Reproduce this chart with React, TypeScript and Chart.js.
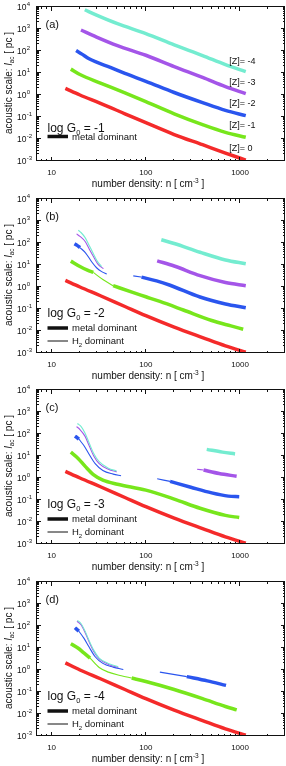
import React, { useEffect, useRef } from 'react';
import { Chart, registerables } from 'chart.js';
Chart.register(...registerables);

type Pt = [number, number];

// ---------- colours ----------
const RED = '#f42a2a';
const GREEN = '#77e61c';
const BLUE = '#2a55ee';
const PURPLE = '#a455e8';
const CYAN = '#74ecd0';
const INK = '#111';

// ---------- axes ----------
const X_MIN = 7;
const X_MAX = 3000;
const Y_MIN = 1e-3;
const Y_MAX = 1e4;
const xTickValues = [10, 100, 1000];
const xTickLabels = ['10', '100', '1000'];
const yTickExponents = [-3, -2, -1, 0, 1, 2, 3, 4];

// ---------- panel (a): log G0 = -1 ----------
const a_cyan: Pt[] = [[22.5, 7500], [30, 4300], [50, 1750], [100, 620], [200, 190], [400, 62], [700, 24], [1150, 11.5]];
const a_purple: Pt[] = [[20.5, 900], [30, 430], [50, 175], [100, 64], [200, 19.5], [400, 6.3], [700, 2.4], [1150, 1.15]];
const a_blue: Pt[] = [[18.2, 105], [21, 72], [25, 44], [30, 31], [42, 18], [60, 9.5], [100, 4.2], [200, 1.3], [400, 0.45], [700, 0.2], [1150, 0.115]];
const a_green: Pt[] = [[16, 15], [20, 8.5], [33, 3.5], [60, 1.25], [100, 0.5], [200, 0.14], [400, 0.045], [700, 0.02], [1150, 0.012]];
const a_red: Pt[] = [[14, 2.0], [20, 1.0], [33, 0.42], [60, 0.14], [100, 0.055], [200, 0.016], [400, 0.0055], [700, 0.0023], [1150, 0.0011]];
const zLabels = ['[Z]= -4', '[Z]= -3', '[Z]= -2', '[Z]= -1', '[Z]= 0'];
const zLabelN = 770;
const zLabelL = [35, 3.9, 0.43, 0.044, 0.0039];

// ---------- panel (b): log G0 = -2 ----------
const b_red: Pt[] = [[14, 2.0], [20, 1.0], [33, 0.4], [60, 0.13], [100, 0.05], [200, 0.015], [400, 0.005], [700, 0.0021], [1150, 0.0011]];
const b_green_m1: Pt[] = [[16, 15], [20, 8.5], [24, 5.8], [27.7, 4.6]];
const b_green_h: Pt[] = [[27.7, 4.6], [35, 2.2], [45, 1.15]];
const b_green_m2: Pt[] = [[45, 1.15], [70, 0.6], [100, 0.36], [141, 0.22], [250, 0.09], [500, 0.03], [800, 0.017], [1080, 0.012]];
const b_blue_m1: Pt[] = [[17.5, 92], [18.5, 80], [20, 62]];
const b_blue_h1: Pt[] = [[20, 62], [23, 35], [26.6, 14], [30, 7.5], [34, 5], [38.5, 3.9]];
const b_blue_h2: Pt[] = [[73.6, 3.2], [90, 2.8]];
const b_blue_m2: Pt[] = [[90, 2.8], [130, 1.9], [181, 1.2], [376, 0.35], [700, 0.17], [1150, 0.115]];
const b_purple_h: Pt[] = [[18.4, 260], [20, 200], [22.6, 120], [25, 55], [27.7, 25], [31, 11], [35.5, 6.8]];
const b_purple_m: Pt[] = [[132, 15.5], [200, 9], [376, 3.3], [700, 1.6], [1150, 1.15]];
const b_cyan_h: Pt[] = [[19.2, 380], [20.5, 300], [22.6, 180], [25, 80], [27.7, 33], [30.5, 15], [34, 8.5]];
const b_cyan_m: Pt[] = [[146, 140], [200, 95], [376, 38], [700, 17], [1150, 11.5]];

// ---------- panel (c): log G0 = -3 ----------
const c_red: Pt[] = [[14, 2.0], [20, 1.0], [33, 0.4], [60, 0.13], [100, 0.05], [200, 0.015], [400, 0.005], [700, 0.0021], [1150, 0.0011]];
const c_green: Pt[] = [[16, 15], [19, 8], [23, 3.2], [28, 1.4], [35, 0.8], [50, 0.52], [100, 0.28], [200, 0.11], [376, 0.042], [700, 0.02], [980, 0.016]];
const c_blue_m1: Pt[] = [[17.7, 80], [18.5, 70], [19.5, 58]];
const c_blue_h1: Pt[] = [[19.5, 58], [22, 30], [25, 12], [29, 4.5], [35, 2.2], [45, 1.5], [54.6, 1.26]];
const c_blue_h2: Pt[] = [[132, 0.92], [181, 0.7]];
const c_blue_m2: Pt[] = [[181, 0.7], [300, 0.38], [500, 0.21], [750, 0.15], [980, 0.14]];
const c_purple_h: Pt[] = [[18.4, 215], [20, 160], [22.6, 80], [25, 30], [28, 10], [32, 4.5], [40, 2.5], [49, 1.9]];
const c_purple_h2: Pt[] = [[350, 2.5], [410, 2.3]];
const c_purple_m: Pt[] = [[410, 2.3], [600, 1.6], [920, 1.2]];
const c_cyan_h: Pt[] = [[18.8, 300], [20.5, 220], [22.6, 110], [25, 40], [28, 13], [32, 5.5], [40, 2.8], [49, 2.1]];
const c_cyan_m: Pt[] = [[443, 20], [650, 15], [885, 12.4]];

// ---------- panel (d): log G0 = -4 ----------
const d_red: Pt[] = [[14, 2.1], [20, 1.0], [33, 0.4], [60, 0.13], [100, 0.05], [200, 0.015], [400, 0.005], [700, 0.0021], [1150, 0.0011]];
const d_green_m1: Pt[] = [[16, 15.5], [19, 10], [22, 6], [25.6, 3.5]];
const d_green_h: Pt[] = [[25.6, 3.5], [32, 1.3], [40, 0.8], [55, 0.55], [70.8, 0.43]];
const d_green_m2: Pt[] = [[70.8, 0.43], [100, 0.3], [200, 0.13], [400, 0.05], [700, 0.022], [922, 0.0155]];
const d_blue_m1: Pt[] = [[17.7, 83], [18.5, 70], [19.5, 58]];
const d_blue_h1: Pt[] = [[19.5, 58], [22, 28], [25, 11], [29, 4], [35, 2], [45, 1.35], [57.7, 1.05]];
const d_blue_h2: Pt[] = [[141, 0.8], [272, 0.5]];
const d_blue_m2: Pt[] = [[272, 0.5], [450, 0.32], [710, 0.2]];
const d_purple_h: Pt[] = [[18.6, 165], [20.5, 115], [22.6, 52], [25, 19], [28, 7], [32, 3.2], [40, 1.8], [51, 1.3]];
const d_cyan_h: Pt[] = [[18.8, 180], [20.5, 130], [22.6, 60], [25, 22], [28, 8], [32, 3.5], [40, 2], [51, 1.4]];

type Seg = { data: Pt[]; color: string; thick: boolean };
type Panel = { tag: string; g0: string; h2: boolean; z: boolean; height: number; segs: Seg[] };

const m = (data: Pt[], color: string): Seg => ({ data, color, thick: true });
const h = (data: Pt[], color: string): Seg => ({ data, color, thick: false });

const panels: Panel[] = [
  {
    tag: '(a)', g0: '-1', h2: false, z: true, height: 192,
    segs: [m(a_cyan, CYAN), m(a_purple, PURPLE), m(a_blue, BLUE), m(a_green, GREEN), m(a_red, RED)],
  },
  {
    tag: '(b)', g0: '-2', h2: true, z: false, height: 191,
    segs: [
      h(b_cyan_h, CYAN), m(b_cyan_m, CYAN), h(b_purple_h, PURPLE), m(b_purple_m, PURPLE),
      m(b_blue_m1, BLUE), h(b_blue_h1, BLUE), h(b_blue_h2, BLUE), m(b_blue_m2, BLUE),
      m(b_green_m1, GREEN), h(b_green_h, GREEN), m(b_green_m2, GREEN), m(b_red, RED),
    ],
  },
  {
    tag: '(c)', g0: '-3', h2: true, z: false, height: 192,
    segs: [
      h(c_cyan_h, CYAN), m(c_cyan_m, CYAN), h(c_purple_h, PURPLE), h(c_purple_h2, PURPLE), m(c_purple_m, PURPLE),
      m(c_blue_m1, BLUE), h(c_blue_h1, BLUE), h(c_blue_h2, BLUE), m(c_blue_m2, BLUE),
      m(c_green, GREEN), m(c_red, RED),
    ],
  },
  {
    tag: '(d)', g0: '-4', h2: true, z: false, height: 191,
    segs: [
      h(d_cyan_h, CYAN), h(d_purple_h, PURPLE),
      m(d_blue_m1, BLUE), h(d_blue_h1, BLUE), h(d_blue_h2, BLUE), m(d_blue_m2, BLUE),
      m(d_green_m1, GREEN), h(d_green_h, GREEN), m(d_green_m2, GREEN), m(d_red, RED),
    ],
  },
];

const FAMILY = "'Liberation Sans', Arial, Helvetica, sans-serif";
type Run = { t: string; size: number; dy?: number; italic?: boolean };

function drawRuns(ctx: CanvasRenderingContext2D, runs: Run[], x: number, y: number, align: 'left' | 'center' | 'right') {
  const font = (r: Run) => `${r.italic ? 'italic ' : ''}${r.size}px ${FAMILY}`;
  const widths = runs.map((r) => { ctx.font = font(r); return ctx.measureText(r.t).width; });
  const total = widths.reduce((s, w) => s + w, 0);
  let cx = align === 'left' ? x : align === 'center' ? x - total / 2 : x - total;
  ctx.textAlign = 'left';
  ctx.textBaseline = 'alphabetic';
  runs.forEach((r, i) => {
    ctx.font = font(r);
    ctx.fillText(r.t, cx, y + (r.dy || 0));
    cx += widths[i];
  });
}

function decor(p: Panel) {
  return {
    id: 'decor',
    afterDraw(chart: any) {
      const ctx: CanvasRenderingContext2D = chart.ctx;
      const xs = chart.scales.x;
      const ys = chart.scales.y;
      const { left, right, top, bottom } = chart.chartArea;
      ctx.save();
      ctx.strokeStyle = INK;
      ctx.fillStyle = INK;
      ctx.lineWidth = 1;
      ctx.strokeRect(left - 0.5, top - 0.5, right - left, bottom - top);
      ctx.beginPath();
      for (let k = 0; k <= 3; k++) {
        for (let mm = 1; mm <= 9; mm++) {
          const v = mm * Math.pow(10, k);
          if (v < X_MIN || v > X_MAX) continue;
          const px = Math.round(xs.getPixelForValue(v)) - 0.5;
          const len = mm === 1 ? 4 : 2;
          ctx.moveTo(px, bottom); ctx.lineTo(px, bottom - len);
          ctx.moveTo(px, top); ctx.lineTo(px, top + len);
        }
      }
      for (let k = -3; k <= 4; k++) {
        for (let mm = 1; mm <= 9; mm++) {
          const v = mm * Math.pow(10, k);
          if (v < Y_MIN || v > Y_MAX * 1.0001) continue;
          const py = Math.round(ys.getPixelForValue(v)) - 0.5;
          const len = mm === 1 ? 4 : 2;
          ctx.moveTo(left, py); ctx.lineTo(left + len, py);
          ctx.moveTo(right, py); ctx.lineTo(right - len, py);
        }
      }
      ctx.stroke();

      // tick labels
      yTickExponents.forEach((e) => {
        const py = ys.getPixelForValue(Math.pow(10, e));
        drawRuns(ctx, [{ t: '10', size: 8.5 }], 26.5, py + 3, 'right');
        drawRuns(ctx, [{ t: String(e), size: 6 }], 26.8, py - 1, 'left');
      });
      xTickValues.forEach((v, i) => {
        const px = xs.getPixelForValue(v);
        drawRuns(ctx, [{ t: xTickLabels[i], size: 8 }], px, bottom + 14, 'center');
      });

      // axis titles
      drawRuns(ctx, [
        { t: 'number density: n [ cm', size: 10 },
        { t: '-3', size: 6.5, dy: -4 },
        { t: ' ]', size: 10 },
      ], 148, bottom + 26, 'center');
      ctx.save();
      ctx.translate(11.5, (top + bottom) / 2 - 1);
      ctx.rotate(-Math.PI / 2);
      drawRuns(ctx, [
        { t: 'acoustic scale: ', size: 10 },
        { t: 'l', size: 10, italic: true },
        { t: 'ac', size: 6.5, dy: 2.5 },
        { t: ' [ pc ]', size: 10 },
      ], 0, 0, 'center');
      ctx.restore();

      // panel tag
      drawRuns(ctx, [{ t: p.tag, size: 11 }], 45.5, top + 21, 'left');

      // G0 + legend
      const gY = p.h2 ? top + 118 : top + 125;
      drawRuns(ctx, [
        { t: 'log G', size: 12 },
        { t: '0', size: 7.5, dy: 2.5 },
        { t: ' = ' + p.g0, size: 12 },
      ], 47.5, gY, 'left');
      const mY = p.h2 ? top + 129 : top + 129.5;
      ctx.lineWidth = 3.5;
      ctx.beginPath(); ctx.moveTo(47.5, mY); ctx.lineTo(68, mY); ctx.stroke();
      drawRuns(ctx, [{ t: 'metal dominant', size: 9.5 }], 72, mY + 3.3, 'left');
      if (p.h2) {
        const hY = top + 142;
        ctx.lineWidth = 1;
        ctx.beginPath(); ctx.moveTo(47.5, hY); ctx.lineTo(68, hY); ctx.stroke();
        drawRuns(ctx, [
          { t: 'H', size: 9.5 },
          { t: '2', size: 6, dy: 2.5 },
          { t: ' dominant', size: 9.5 },
        ], 72, hY + 3.3, 'left');
      }
      if (p.z) {
        zLabels.forEach((t, i) => {
          const px = xs.getPixelForValue(zLabelN);
          const py = ys.getPixelForValue(zLabelL[i]);
          drawRuns(ctx, [{ t, size: 9 }], px, py + 3.2, 'left');
        });
      }
      ctx.restore();
    },
  };
}

function PanelChart({ p }: { p: Panel }) {
  const ref = useRef<HTMLCanvasElement | null>(null);
  useEffect(() => {
    if (!ref.current) return;
    const chart = new Chart(ref.current, {
      type: 'line',
      data: {
        datasets: p.segs.map((s) => ({
          data: s.data.map(([x, y]) => ({ x, y })),
          borderColor: s.color,
          backgroundColor: s.color,
          borderWidth: s.thick ? 3.5 : 1.1,
          pointRadius: 0,
          fill: false,
          cubicInterpolationMode: 'monotone' as const,
          borderCapStyle: 'butt' as const,
          borderJoinStyle: 'round' as const,
        })),
      },
      options: {
        animation: false,
        responsive: false,
        maintainAspectRatio: false,
        events: [],
        layout: { padding: { left: 37, right: 1, top: 7, bottom: p.height - 161 } },
        plugins: { legend: { display: false }, tooltip: { enabled: false }, title: { display: false } },
        scales: {
          x: { type: 'logarithmic', min: X_MIN, max: X_MAX, display: false },
          y: { type: 'logarithmic', min: Y_MIN, max: Y_MAX, display: false },
        },
      } as any,
      plugins: [decor(p)],
    });
    return () => chart.destroy();
  }, [p]);
  return <canvas ref={ref} width={286} height={p.height} style={{ display: 'block', width: 286, height: p.height }} />;
}

export default function App() {
  return (
    <div style={{ position: 'absolute', left: 0, top: 0, width: 286, height: 766, background: '#fff' }}>
      {panels.map((p) => (
        <PanelChart key={p.tag} p={p} />
      ))}
    </div>
  );
}
